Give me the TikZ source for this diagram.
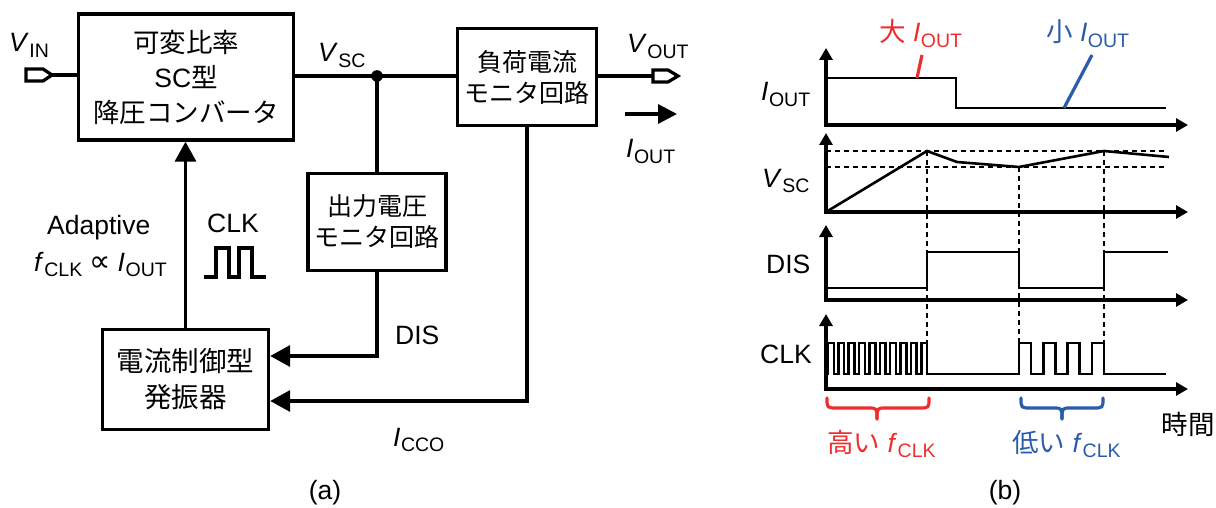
\documentclass[tikz,border=0pt]{standalone}
\usepackage{fontspec}
\setmainfont{Liberation Sans}
\newfontfamily\cjk{Noto Sans CJK JP}
\newfontfamily\dv{DejaVu Sans}
\usetikzlibrary{arrows.meta}
\definecolor{myred}{HTML}{EE2D2D}
\definecolor{myblue}{HTML}{2A5CAA}
\newcommand\subx[1]{\raisebox{-0.2em}{\fontsize{19.5}{19.5}\selectfont #1}}
\newcommand\sig[2]{\textit{#1}\kern0.5pt\subx{#2}}
\begin{document}
\begin{tikzpicture}[x=1pt,y=-1pt,font=\fontsize{26.5}{32}\selectfont,
  blk/.style={draw, line width=3.4pt, align=center, inner sep=0pt},
  wire/.style={line width=3.4pt},
  conn/.style={line width=3.4pt, -{Triangle[length=20pt,width=21pt]}},
  term/.style={line width=3.2pt, fill=white, line join=miter},
  axis/.style={line width=3.2pt, {Triangle[length=12pt,width=13pt]}-{Triangle[length=12pt,width=13pt]}},
  sigl/.style={line width=2.6pt, line join=miter},
  dsh/.style={line width=1.5pt, dash pattern=on 5pt off 4pt},
  lbl/.style={anchor=base west, inner sep=0pt},
  brc/.style={line width=3.2pt, line cap=round}]
\useasboundingbox (0,0) rectangle (1216,508);

% ---------------- (a) ----------------
\node[blk, minimum width=215pt, minimum height=126pt, font=\fontsize{26.5}{35}\selectfont] (box1) at (186,77)
  {{\cjk 可変比率}\\SC{\cjk 型}\\{\cjk 降圧コンバータ}};
\node[blk, minimum width=139pt, minimum height=97pt, font=\fontsize{25}{31}\selectfont] (box2) at (527,77)
  {{\cjk 負荷電流}\\{\cjk モニタ回路}};
\node[blk, minimum width=138pt, minimum height=97pt, font=\fontsize{25}{31}\selectfont] (box3) at (377,222)
  {{\cjk 出力電圧}\\{\cjk モニタ回路}};
\node[blk, minimum width=166pt, minimum height=100pt, font=\fontsize{27.5}{36}\selectfont] (box4) at (185.5,379.5)
  {{\cjk 電流制御型}\\{\cjk 発振器}};

% terminals
\coordinate (vin) at (52,75);
\draw[term] (26,69) -- (43,69) -- (vin) -- (43,81) -- (26,81) -- cycle;
\draw[wire] (vin) -- (vin -| box1.west);
\coordinate (vout) at (653,76);
\draw[wire] (box2.east |- vout) -- (vout);
\draw[term] (vout) ++(0,-6) -- (668,70) -- (678,76) -- (668,82) -- (653,82) -- cycle;

% VSC node
\coordinate (dot) at (377,76);
\draw[wire] (box1.east |- dot) -- (dot) -- (dot -| box2.west);
\fill (dot) circle (5.8pt);
\draw[wire] (dot) -- (box3.north);

% feedback connectors
\draw[conn] (box4.north) -- (box4.north |- box1.south);
\draw[conn] (box3.south) |- ([yshift=23.5pt]box4.east);
\draw[conn] (box2.south) |- ([yshift=-21.5pt]box4.east);

% IOUT arrow
\coordinate (ia) at (625,114);
\coordinate (ib) at (677,114);
\draw[line width=3.4pt, -{Triangle[length=19pt,width=19pt]}] (ia) -- (ib);

% labels (a)
\node[lbl] (lvin) at (9,52) {\sig{V}{IN}};
\node[lbl] (lvsc) at (318,62) {\sig{V}{SC}};
\node[lbl] (lvout) at (627,53) {\sig{V}{OUT}};
\node[lbl] (liout) at (626,158) {\sig{I}{OUT}};
\node[lbl] (ladp) at (47,234) {Adaptive};
\node[lbl] (lfclk) at (34,271) {\sig{f}{CLK}\kern7pt{\dv\fontsize{30}{30}\selectfont ∝}\kern7pt\sig{I}{OUT}};
\node[lbl] (lclk) at (207,232) {CLK};
\node[lbl] (ldis) at (395,344) {DIS};
\node[lbl] (licco) at (393,446) {\sig{I}{CCO}};
\node (la) at (325,493) {(a)};
\draw[line width=3.4pt, line join=miter] (204,277) -- (216,277) -- (216,248) -- (229,248) -- (229,277) -- (239,277) -- (239,248) -- (252,248) -- (252,277) -- (266,277);

% ---------------- (b) ----------------
\draw[axis] (826,48) -- (826,125) -- (1188,125);
\draw[axis] (826,133) -- (826,212) -- (1188,212);
\draw[axis] (826,225) -- (826,300) -- (1188,300);
\draw[axis] (826,314) -- (826,389) -- (1188,389);

% IOUT
\draw[sigl] (826,78) -- (956,78) -- (956,108) -- (1166,108);
\draw[line width=3.2pt, myred] (922,55) -- (917,78);
\draw[line width=3.2pt, myblue] (1092,55) -- (1064,108);

% VSC
\draw[dsh] (826,151) -- (1167,151);
\draw[dsh] (826,167) -- (1167,167);
\draw[dsh] (927,151) -- (927,374);
\draw[dsh] (1019,167) -- (1019,374);
\draw[dsh] (1104,151) -- (1104,374);
\draw[sigl] (826,212) -- (927,151) -- (957,162) -- (1019,167) -- (1104,151) -- (1169,157);

% DIS
\draw[sigl] (826,288) -- (927,288) -- (927,252) -- (1019,252) -- (1019,288) -- (1104,288) -- (1104,252) -- (1168,252);

% CLK
\draw[sigl] (826,374) foreach \k in {0,...,9} { -- ({828+10.36*\k},374) -- ({828+10.36*\k},343) -- ({833.8+10.36*\k},343) -- ({833.8+10.36*\k},374) }
  -- (1019,374) foreach \k in {0,...,3} { -- ({1019+24.28*\k},374) -- ({1019+24.28*\k},343) -- ({1031.14+24.28*\k},343) -- ({1031.14+24.28*\k},374) }
  -- (1166,374);

% braces
\draw[brc, myred] (827,398) .. controls (827,408) .. (837,408) -- (868,408) .. controls (877,408) .. (877,419);
\draw[brc, myred] (929,398) .. controls (929,408) .. (919,408) -- (886,408) .. controls (877,408) .. (877,419);
\draw[brc, myblue] (1021,398) .. controls (1021,408) .. (1031,408) -- (1053,408) .. controls (1062,408) .. (1062,419);
\draw[brc, myblue] (1103,398) .. controls (1103,408) .. (1093,408) -- (1071,408) .. controls (1062,408) .. (1062,419);

% labels (b)
\node[lbl, text=myred] (lbig) at (879,42) {{\cjk 大} \sig{I}{OUT}};
\node[lbl, text=myblue] (lsmall) at (1046,42) {{\cjk 小} \sig{I}{OUT}};
\node[lbl] (biout) at (761,101) {\sig{I}{OUT}};
\node[lbl] (bvsc) at (762,187) {\sig{V}{SC}};
\node[lbl] (bdis) at (766,273) {DIS};
\node[lbl] (bclk) at (760,363) {CLK};
\node[lbl, text=myred] (lhigh) at (827,452) {{\cjk 高い} \sig{f}{CLK}};
\node[lbl, text=myblue] (llow) at (1012,452) {{\cjk 低い} \sig{f}{CLK}};
\node (ltime) at (1188,424) {\cjk 時間};
\node (lb) at (1005,493) {(b)};
\end{tikzpicture}
\end{document}
